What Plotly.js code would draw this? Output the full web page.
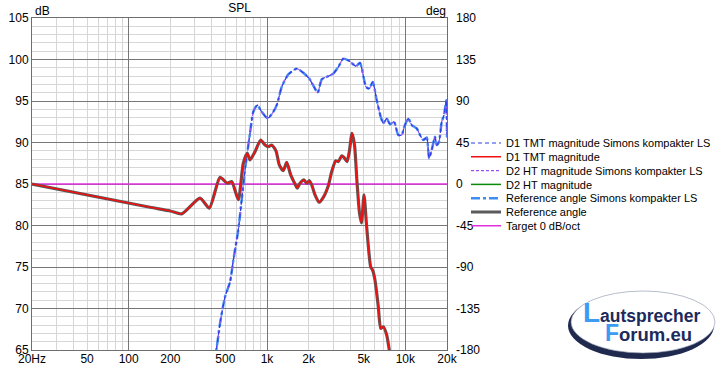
<!DOCTYPE html>
<html><head><meta charset="utf-8">
<script src="https://cdn.plot.ly/plotly-3.0.1.min.js"></script>
<style>html,body{margin:0;padding:0;background:#fff}#chart{width:722px;height:369px}</style>
</head><body><div id="chart"></div>
<script>
// ---- tick labels ----
const xTickVals = [20, 50, 100, 200, 500, 1000, 2000, 5000, 10000, 20000];
const xTickText = ['20Hz', '50', '100', '200', '500', '1k', '2k', '5k', '10k', '20k'];
const xMajorGrid = [100, 1000, 10000];
const xMinorGrid = [30, 40, 50, 60, 70, 80, 90, 200, 300, 400, 500, 600, 700, 800, 900,
                    2000, 3000, 4000, 5000, 6000, 7000, 8000, 9000];
const degTickVals = [-180, -135, -90, -45, 0, 45, 90, 135, 180];
const degTickText = ['-180', '-135', '-90', '-45', '0', '45', '90', '135', '180'];

// ---- series ----
const freqSimons = [407, 427.8, 457.4, 496.9, 540.2, 570.4, 620, 656, 693, 753,
  796, 851, 915, 1011, 1110, 1181, 1277, 1425, 1639, 1830,
  2021, 2186, 2326, 2486, 2774, 3014, 3276, 3560, 3868, 4398,
  4700, 5194, 5488, 5808, 6208, 6635, 6928, 7332, 7745, 8280,
  8892, 9412, 9828, 10504, 11117, 12081, 12762, 13485, 14270, 14826,
  15508, 16382, 16853, 17514, 18318, 19030, 19773, 20000];
const dbSimons = [63.5, 64.8, 68.2, 71.4, 73.2, 75.8, 79.5, 83.1, 86.7, 91.1,
  93.7, 94.5, 93.7, 92.9, 93.7, 94.6, 96.7, 98.2, 98.9, 98.4,
  97.7, 96.7, 96.0, 97.6, 98.0, 98.3, 99.1, 100.1, 99.9, 99.2,
  99.6, 96.7, 96.5, 97.3, 95.1, 93.1, 92.3, 92.9, 92.2, 92.5,
  90.9, 90.9, 91.9, 92.9, 92.1, 91.7, 90.9, 90.3, 90.6, 88.1,
  89.1, 90.7, 89.7, 90.1, 92.5, 93.3, 95.1, 90.6];

const freqMeas = [20, 142.6, 200, 241.6, 327.8, 382.6, 457.4, 516.4, 555.4, 620,
  673.8, 720.2, 753.2, 818.8, 900.2, 967, 1021.6, 1081, 1161, 1226.6,
  1311, 1387.6, 1483, 1593, 1655, 1731, 1850, 1936, 2021, 2104,
  2222, 2376, 2552, 2774, 2936, 3138, 3276, 3467, 3602, 3786,
  3934, 4115, 4290, 4472, 4662, 4820, 5025, 5255, 5617, 5808,
  6034, 6375, 6635, 6928, 7332, 7656, 8010];
const dbMeas = [85.0, 82.2, 81.75, 81.4, 83.3, 82.1, 85.8, 85.1, 85.3, 83.1,
  87.5, 88.7, 87.9, 88.9, 90.3, 89.7, 89.5, 89.7, 89.0, 87.3,
  86.6, 87.6, 86.1, 85.0, 84.5, 85.1, 85.5, 85.1, 85.4, 84.9,
  83.7, 82.8, 83.4, 84.8, 86.5, 87.8, 87.7, 88.4, 88.2, 87.7,
  88.9, 91.1, 89.7, 85.2, 81.5, 80.3, 83.7, 79.8, 75.0, 74.6,
  73.4, 70.2, 67.6, 67.8, 66.8, 65.0, 63.5];

const freqTarget = [20, 20000];
const dbTarget = [85, 85];

const legendNames = [
  'D1 TMT magnitude Simons kompakter LS',
  'D1 TMT magnitude',
  'D2 HT magnitude Simons kompakter LS',
  'D2 HT magnitude',
  'Reference angle Simons kompakter LS',
  'Reference angle',
  'Target 0 dB/oct'
];

// ---- geometry helpers (plot area in px) ----
const PL = 32, PR = 447, PT = 18, PB = 350;
const px2x = px => (px - PL) / (PR - PL);
const py2y = py => (PB - py) / (PB - PT);

const FONT = 'Liberation Sans, Arial, sans-serif';
const LOGOFONT = 'Liberation Sans, Arial, sans-serif';
const legendIds = ['legend', 'legend2', 'legend3', 'legend4', 'legend5', 'legend6', 'legend7'];

const sp = {shape: 'spline', smoothing: 0.6};
const traces = [
  {x: freqTarget, y: dbTarget, name: legendNames[6], legend: legendIds[6], mode: 'lines',
   line: {color: '#e030e0', width: 1.5}},
  {x: freqSimons, y: dbSimons, name: legendNames[4], legend: legendIds[4], mode: 'lines',
   line: Object.assign({color: '#3d8ef2', width: 2.5, dash: 'dashdot'}, sp)},
  {x: freqSimons, y: dbSimons, name: legendNames[2], legend: legendIds[2], mode: 'lines',
   line: Object.assign({color: '#9a50f0', width: 1.2, dash: '3px,2px'}, sp)},
  {x: freqSimons, y: dbSimons, name: legendNames[0], legend: legendIds[0], mode: 'lines',
   line: Object.assign({color: '#2a40e8', width: 1.2, dash: '4px,3px'}, sp)},
  {x: freqMeas, y: dbMeas, name: legendNames[5], legend: legendIds[5], mode: 'lines',
   line: Object.assign({color: '#5a5a5a', width: 3.2}, sp)},
  {x: freqMeas, y: dbMeas, name: legendNames[1], legend: legendIds[1], mode: 'lines',
   line: Object.assign({color: '#f01010', width: 1.6}, sp)},
  {x: [null], y: [null], name: legendNames[3], legend: legendIds[3], mode: 'lines',
   xaxis: 'x2', yaxis: 'y2', line: {color: '#0a8a0a', width: 1.5}}
];

const layout = {
  width: 722, height: 369,
  margin: {l: PL, r: 722 - PR, t: PT, b: 369 - PB, pad: 0, autoexpand: false},
  paper_bgcolor: '#ffffff', plot_bgcolor: '#ffffff',
  font: {family: FONT, size: 12, color: '#000'},
  title: {text: 'SPL', font: {family: FONT, size: 12, color: '#000'},
          xref: 'paper', x: 0.5, xanchor: 'center', yref: 'container', y: 1 - 8 / 369, yanchor: 'middle'},
  showlegend: true,
  xaxis: {type: 'log', range: [Math.log10(20), Math.log10(20000)], tickmode: 'array',
          tickvals: xMajorGrid, showticklabels: false, ticks: '',
          showgrid: true, gridcolor: '#777777', gridwidth: 1,
          minor: {tickmode: 'array', tickvals: xMinorGrid, showgrid: true, gridcolor: '#d6d6d6', gridwidth: 1, ticks: ''},
          showline: true, mirror: true, linecolor: '#6e6e6e', linewidth: 1, zeroline: false, fixedrange: true},
  xaxis2: {type: 'log', range: [Math.log10(20), Math.log10(20000)], overlaying: 'x', anchor: 'y2', side: 'bottom',
           tickmode: 'array', tickvals: xTickVals, ticktext: xTickText, ticks: '', showgrid: false,
           showline: false, zeroline: false, tickfont: {family: FONT, size: 12, color: '#000'}, fixedrange: true},
  yaxis: {range: [65, 105], tickmode: 'linear', tick0: 65, dtick: 5, ticks: '',
          showgrid: true, gridcolor: '#777777', gridwidth: 1,
          minor: {tickmode: 'linear', tick0: 65, dtick: 1, showgrid: true, gridcolor: '#d6d6d6', gridwidth: 1, ticks: ''},
          showline: true, mirror: true, linecolor: '#6e6e6e', linewidth: 1, zeroline: false,
          tickfont: {family: FONT, size: 12, color: '#000'}, fixedrange: true},
  yaxis2: {range: [-180, 180], overlaying: 'y', anchor: 'x2', side: 'right', tickmode: 'array',
           tickvals: degTickVals, ticktext: degTickText, ticks: '', showgrid: false, zeroline: false,
           showline: false, ticklabelstandoff: 8, automargin: false,
           tickfont: {family: FONT, size: 12, color: '#000'}, fixedrange: true},
  annotations: [
    {text: 'dB', xref: 'paper', yref: 'paper', x: px2x(33), y: py2y(11), xanchor: 'left', yanchor: 'middle',
     showarrow: false, font: {family: FONT, size: 12, color: '#000'}},
    {text: 'deg', xref: 'paper', yref: 'paper', x: px2x(448), y: py2y(11), xanchor: 'right', yanchor: 'middle',
     showarrow: false, font: {family: FONT, size: 12, color: '#000'}},
    // logo text
    {text: '<b><span style="font-size:28px;color:#3d9cf2">L</span>autsprecher</b>', xref: 'paper', yref: 'paper',
     x: px2x(581), y: py2y(312), xanchor: 'left', yanchor: 'middle',
     showarrow: false, font: {family: LOGOFONT, size: 17.5, color: '#1c2a5c'}},
    {text: '<b><span style="font-size:23px;color:#3d9cf2">F</span>orum.eu</b>', xref: 'paper', yref: 'paper',
     x: px2x(603), y: py2y(333), xanchor: 'left', yanchor: 'middle',
     showarrow: false, font: {family: LOGOFONT, size: 18.5, color: '#1c2a5c'}}
  ],
  shapes: [
    {type: 'circle', xref: 'paper', yref: 'paper', x0: px2x(568), x1: px2x(714), y0: py2y(359), y1: py2y(292),
     fillcolor: '#1f2a4e', line: {width: 0}},
    {type: 'circle', xref: 'paper', yref: 'paper', x0: px2x(571), x1: px2x(715), y0: py2y(353), y1: py2y(291),
     fillcolor: '#ffffff', line: {width: 0.6, color: '#8890a8'}}
  ]
};

// one single-entry legend per trace, stacked like the reference
legendIds.forEach((id, i) => {
  layout[id] = {x: px2x(466), xanchor: 'left', y: py2y(143 + 13.8 * i), yanchor: 'middle',
                bgcolor: 'rgba(0,0,0,0)', borderwidth: 0,
                font: {family: FONT, size: 11, color: '#000'}};
});

Plotly.newPlot('chart', traces, layout, {displayModeBar: false, staticPlot: true});
</script></body></html>
